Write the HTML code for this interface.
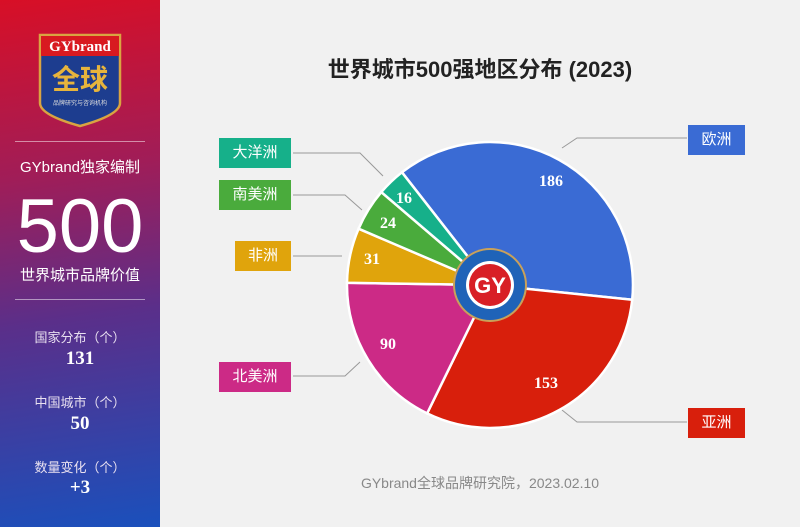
<!DOCTYPE html>
<html><head><meta charset="utf-8"><style>
*{margin:0;padding:0;box-sizing:border-box}
body{width:800px;height:527px;overflow:hidden;position:relative;font-family:"Liberation Sans","Noto Sans CJK SC",sans-serif;background:#f1f1f1}
#left{position:absolute;left:0;top:0;width:160px;height:527px;background:linear-gradient(172deg,#d80f26 0%,#a01d58 33%,#5a2f8a 60%,#1a50bc 100%);color:#fff;text-align:center}
.t{position:absolute;left:0;width:160px;text-align:center}
.hr{position:absolute;left:15px;width:130px;height:1px;background:rgba(255,255,255,0.5)}
.serif{font-family:"Liberation Serif","Noto Serif CJK SC",serif;font-weight:bold}
.lab{position:absolute;color:#fff;font-size:15px;text-align:center;line-height:30px;height:30px}
</style></head><body>
<div id="left">
<svg class="t" style="top:33px;left:38px;width:84px;height:95px" viewBox="0 0 84 95">
<path d="M2 2H82V70Q82 82 42 93Q2 82 2 70Z" fill="#1d3d8f" stroke="#d9a441" stroke-width="2.5"/>
<rect x="3" y="3" width="78" height="20" fill="#d81a20"/>
<text x="42" y="18" fill="#fff" font-size="15" font-family="Liberation Serif,serif" font-weight="bold" text-anchor="middle">GYbrand</text>
<text x="42" y="56" fill="#e7b43c" font-size="28" font-weight="bold" text-anchor="middle" font-family="Noto Sans CJK SC,sans-serif">全球</text>
<text x="42" y="72" fill="#ddd" font-size="6" text-anchor="middle" font-family="Noto Sans CJK SC,sans-serif">品牌研究与咨询机构</text>
</svg>
<div class="hr" style="top:141px"></div>
<div class="t" style="top:156px;font-size:15px">GYbrand独家编制</div>
<div class="t" style="top:182px;font-size:76px;line-height:90px">500</div>
<div class="t" style="top:264px;font-size:15px">世界城市品牌价值</div>
<div class="hr" style="top:299px"></div>
<div class="t" style="top:327px;font-size:13px;color:#e8e0f0">国家分布（个）</div>
<div class="t serif" style="top:348px;font-size:19px">131</div>
<div class="t" style="top:392px;font-size:13px;color:#e8e0f0">中国城市（个）</div>
<div class="t serif" style="top:413px;font-size:19px">50</div>
<div class="t" style="top:457px;font-size:13px;color:#e8e0f0">数量变化（个）</div>
<div class="t serif" style="top:477px;font-size:19px">+3</div>
</div>
<div style="position:absolute;left:160px;width:640px;top:52px;text-align:center;font-size:22px;font-weight:bold;color:#222">世界城市500强地区分布 (2023)</div>
<svg style="position:absolute;left:0;top:0" width="800" height="527">
<g fill="none" stroke="#999" stroke-width="1">
<polyline points="293,153 360,153 383,176"/>
<polyline points="293,195 345,195 362,210"/>
<polyline points="293,256 342,256"/>
<polyline points="293,376 345,376 360,362"/>
<polyline points="687,138 577,138 562,148"/>
<polyline points="687,422 577,422 562,410"/>
</g>
<g stroke="#fff" stroke-width="2.5">
<path d="M490,285L401.95,172.3A143,143 0 0 1 632.2,299.7Z" fill="#3a6bd4"/>
<path d="M490,285L632.2,299.7A143,143 0 0 1 427.1,413.4Z" fill="#d81f0c"/>
<path d="M490,285L427.1,413.4A143,143 0 0 1 347,282.8Z" fill="#cc2a86"/>
<path d="M490,285L347,282.8A143,143 0 0 1 358.6,228.7Z" fill="#e0a40c"/>
<path d="M490,285L358.6,228.7A143,143 0 0 1 381.3,192.1Z" fill="#4aab3c"/>
<path d="M490,285L381.3,192.1A143,143 0 0 1 401.95,172.3Z" fill="#16b08a"/>
</g>
<g fill="#fff" font-family="Liberation Serif,serif" font-weight="bold" font-size="16" text-anchor="middle">
<text x="551" y="186">186</text><text x="546" y="388">153</text><text x="388" y="349">90</text>
<text x="372" y="264">31</text><text x="388" y="228">24</text><text x="404" y="203">16</text>
</g>
<circle cx="490" cy="285" r="37" fill="#c9a15a"/>
<circle cx="490" cy="285" r="35" fill="#1f63b8"/>
<circle cx="490" cy="285" r="24" fill="#fff"/>
<circle cx="490" cy="285" r="21" fill="#d81f26"/>
<text x="490" y="293" fill="#fff" font-size="22" font-weight="bold" text-anchor="middle" font-family="Liberation Sans,sans-serif">GY</text>
</svg>
<div class="lab" style="left:688px;top:125px;width:57px;background:#3a6bd4">欧洲</div>
<div class="lab" style="left:688px;top:408px;width:57px;background:#d81f0c">亚洲</div>
<div class="lab" style="left:219px;top:138px;width:72px;background:#16b08a">大洋洲</div>
<div class="lab" style="left:219px;top:180px;width:72px;background:#4aab3c">南美洲</div>
<div class="lab" style="left:235px;top:241px;width:56px;background:#e0a40c">非洲</div>
<div class="lab" style="left:219px;top:362px;width:72px;background:#cc2a86">北美洲</div>
<div style="position:absolute;left:160px;width:640px;top:473px;text-align:center;font-size:14px;color:#888">GYbrand全球品牌研究院，2023.02.10</div>
</body></html>
